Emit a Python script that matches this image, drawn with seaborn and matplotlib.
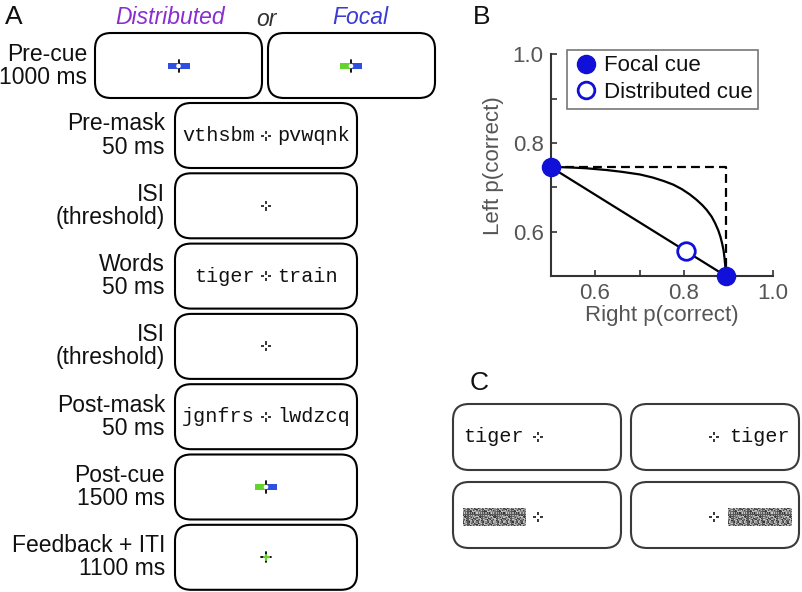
import numpy as np
import matplotlib
matplotlib.use('Agg')
from matplotlib import pyplot as plt
from matplotlib.patches import FancyBboxPatch, Rectangle, Circle
from matplotlib.lines import Line2D
import seaborn as sns

# ---- panel A: trial sequence ----
stage_labels = ['Pre-mask\n50 ms', 'ISI\n(threshold)', 'Words\n50 ms',
                'ISI\n(threshold)', 'Post-mask\n50 ms', 'Post-cue\n1500 ms',
                'Feedback + ITI\n1100 ms']
stage_words = [('vthsbm', 'pvwqnk'), None, ('tiger', 'train'), None,
               ('jgnfrs', 'lwdzcq'), None, None]

# ---- panel B: performance space ----
focal_x = [0.500, 0.894]
focal_y = [0.746, 0.500]
dist_x = [0.804]
dist_y = [0.557]
bound_x = [0.500, 0.894, 0.894]
bound_y = [0.746, 0.746, 0.500]
curve_x = [0.500, 0.540, 0.580, 0.626, 0.660, 0.701, 0.730, 0.755, 0.776,
           0.795, 0.813, 0.828, 0.841, 0.851, 0.862, 0.870, 0.877, 0.882,
           0.886, 0.889, 0.891, 0.893, 0.894]
curve_y = [0.746, 0.745, 0.743, 0.739, 0.735, 0.729, 0.722, 0.714, 0.706,
           0.696, 0.684, 0.672, 0.660, 0.649, 0.634, 0.619, 0.603, 0.588,
           0.572, 0.557, 0.541, 0.520, 0.500]

BLUE = '#1010d8'
CUE_BLUE = '#2f4fe0'
CUE_GREEN = '#62d42c'
INK = '#111111'

sns.set_theme(style='white')
plt.rcParams['font.family'] = ['Liberation Sans', 'DejaVu Sans']
plt.rcParams['text.color'] = INK

fig = plt.figure(figsize=(8.02, 5.92), dpi=100)
ax = fig.add_axes([0, 0, 1, 1])
ax.set_xlim(0, 802)
ax.set_ylim(592, 0)
ax.axis('off')

MONO = ['Liberation Mono', 'DejaVu Sans Mono']


def box(x0, y0, w, h, ec='black'):
    ax.add_patch(FancyBboxPatch((x0, y0), w, h,
                                boxstyle='round,pad=0,rounding_size=16',
                                fc='white', ec=ec, lw=1.5))


def fixation(x, y, color='black'):
    for dx, dy in [(1, 0), (-1, 0), (0, 1), (0, -1)]:
        ax.plot([x + dx * 1.6, x + dx * 5], [y + dy * 1.6, y + dy * 5],
                color=color, lw=1.1, solid_capstyle='butt')


def cue(x, y, left, right):
    ax.add_patch(Rectangle((x - 11, y - 2.6), 11, 5.2, color=left, lw=0))
    ax.add_patch(Rectangle((x, y - 2.6), 11, 5.2, color=right, lw=0))
    ax.plot([x, x], [y - 6, y + 6], color='black', lw=1.3)
    ax.add_patch(Circle((x, y), 1.6, color='white', zorder=5))


def mask(x0, y0, w, h):
    ii, jj = np.indices((16, 56))
    tex = 0.2 + 0.6 * (((ii * 37 + jj * 17 + ii * jj * 7) % 13) / 12.0)
    ax.imshow(tex, cmap='gray', vmin=0, vmax=1, extent=(x0, x0 + w, y0 + h, y0),
              interpolation='nearest', aspect='auto', zorder=3)


# panel A header
ax.text(5, 17, 'A', fontsize=19, ha='left', va='center')
ax.text(170, 18, 'Distributed', fontsize=16.5, style='italic', color='#8a2ed0',
        ha='center', va='center')
ax.text(266, 19, 'or', fontsize=16.5, style='italic', color='#333333',
        ha='center', va='center')
ax.text(360, 18, 'Focal', fontsize=16.5, style='italic', color='#3a3ad6',
        ha='center', va='center')

# pre-cue
box(95, 33, 167, 65)
box(268, 33, 167, 65)
cue(178.5, 66, CUE_BLUE, CUE_BLUE)
cue(351, 66, CUE_GREEN, CUE_BLUE)
ax.text(87, 66, 'Pre-cue\n1000 ms', fontsize=16.5, ha='right', va='center',
        linespacing=1.0)

# remaining stages
for k, (lab, words) in enumerate(zip(stage_labels, stage_words)):
    top = 103 + k * 70.3
    cy = top + 32.5
    box(175, top, 182, 65)
    ax.text(165, cy, lab, fontsize=16.5, ha='right', va='center', linespacing=1.0)
    if words is not None:
        fixation(266, cy)
        ax.text(255, cy, words[0], fontsize=14.5, family=MONO, ha='right', va='center')
        ax.text(277, cy, words[1], fontsize=14.5, family=MONO, ha='left', va='center')
    elif lab.startswith('ISI'):
        fixation(266, cy)
    elif lab.startswith('Post-cue'):
        cue(266, cy, CUE_GREEN, CUE_BLUE)
    else:
        ax.plot([261, 271], [cy, cy], color='black', lw=1.3)
        ax.plot([266, 266], [cy - 5, cy + 5], color='black', lw=1.3)
        ax.plot([263.5, 268.5], [cy, cy], color=CUE_GREEN, lw=1.6)
        ax.plot([266, 266], [cy - 2.5, cy + 2.5], color=CUE_GREEN, lw=1.6)

# ---- panel C ----
ax.text(470, 383, 'C', fontsize=19, ha='left', va='center')
for (x0, y0) in [(453, 404), (631, 404), (453, 482), (631, 482)]:
    box(x0, y0, 168, 66, ec='#3a3a3a')
ax.text(463, 437, 'tiger', fontsize=14.5, family=MONO, ha='left', va='center')
fixation(538, 437)
fixation(714, 437)
ax.text(729, 437, 'tiger', fontsize=14.5, family=MONO, ha='left', va='center')
mask(463, 508, 63, 18)
fixation(538, 517)
fixation(714, 517)
mask(728, 508, 64, 18)

# ---- panel B ----
ax.text(473, 17, 'B', fontsize=19, ha='left', va='center')
axb = fig.add_axes([550.5 / 802, 1 - 276 / 592, 222.5 / 802, 221.7 / 592])
axb.patch.set_alpha(0)

sns.lineplot(x=bound_x, y=bound_y, sort=False, estimator=None, color='black',
             lw=1.6, linestyle=(0, (4, 2.3)), ax=axb)
sns.lineplot(x=curve_x, y=curve_y, sort=False, estimator=None, color='black',
             lw=1.6, ax=axb)
sns.lineplot(x=focal_x, y=focal_y, sort=False, estimator=None, color='black',
             lw=1.6, ax=axb)
sns.scatterplot(x=dist_x, y=dist_y, s=160, color='white', edgecolor=BLUE,
                linewidth=2, zorder=5, clip_on=False, ax=axb)
sns.scatterplot(x=focal_x, y=focal_y, s=170, color=BLUE, edgecolor=BLUE,
                linewidth=1, zorder=6, clip_on=False, ax=axb)

axb.set_xlim(0.5, 1.0)
axb.set_ylim(0.5, 1.0)
ticks = [0.5, 0.6, 0.7, 0.8, 0.9, 1.0]
tlabs = ['', '0.6', '', '0.8', '', '1.0']
axb.set_xticks(ticks)
axb.set_xticklabels(tlabs)
axb.set_yticks(ticks)
axb.set_yticklabels(tlabs)
axb.tick_params(direction='in', length=4, width=1.2, color='#333333',
                labelcolor='#555555', labelsize=16, pad=5,
                bottom=True, left=True)
for s in ['top', 'right']:
    axb.spines[s].set_visible(False)
for s in ['left', 'bottom']:
    axb.spines[s].set_color('#333333')
    axb.spines[s].set_linewidth(1.5)
axb.set_xlabel('Right p(correct)', fontsize=16, color='#555555', labelpad=1)
axb.set_ylabel('Left p(correct)', fontsize=16, color='#555555', labelpad=6)

handles = [
    Line2D([], [], marker='o', ls='', markersize=13, markerfacecolor=BLUE,
           markeredgecolor=BLUE),
    Line2D([], [], marker='o', ls='', markersize=12, markerfacecolor='white',
           markeredgecolor=BLUE, markeredgewidth=2),
]
leg = axb.legend(handles, ['Focal cue', 'Distributed cue'], loc='upper left',
                 bbox_to_anchor=(0.074, 1.02), borderaxespad=0, fontsize=16,
                 frameon=True, fancybox=False, edgecolor='#777777',
                 framealpha=1, handletextpad=0.2, handlelength=1.2,
                 borderpad=0.25, labelspacing=0.25)
leg.get_frame().set_linewidth(1.2)
for t in leg.get_texts():
    t.set_color(INK)

fig.savefig('out.png', dpi=100)
